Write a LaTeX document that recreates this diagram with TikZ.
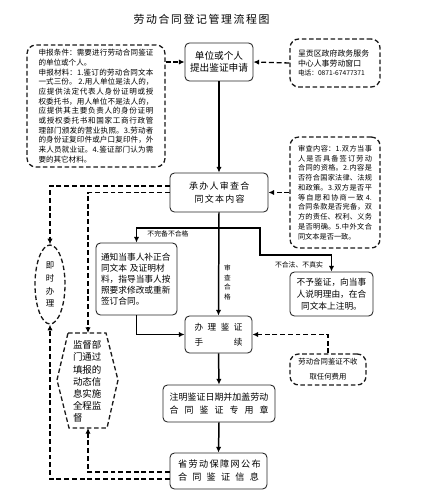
\documentclass[tikz,border=0pt]{standalone}
\usepackage{fontspec}
\newfontfamily\cjk{Noto Sans CJK SC}
\usetikzlibrary{arrows.meta,calc,shapes.geometric}
\XeTeXlinebreaklocale "zh"
\XeTeXlinebreakskip=0pt plus 0.6pt
\newcommand\fs[2]{\fontsize{#1}{#2}\selectfont}
\newcommand\spr[2]{\makebox[#1][s]{#2}}
\begin{document}
\begin{tikzpicture}[x=0.02cm,y=-0.02cm,
  every node/.style={font=\cjk},
  box/.style={draw=black!85, rounded corners=2.5pt, line width=0.5pt, inner sep=0pt, align=center},
  dbox/.style={draw=black!90, dash pattern=on 2.6pt off 1.5pt, rounded corners=5pt, line width=0.75pt, inner sep=0pt},
  arr/.style={line width=0.85pt, -{Latex[length=3.2pt,width=3pt]}},
  darr/.style={line width=0.75pt, dash pattern=on 2.8pt off 1.6pt, -{Latex[length=3.2pt,width=3pt]}},
  lab/.style={inner sep=0pt, font=\cjk\fs{3.9}{5}},
]
\useasboundingbox (0,0) rectangle (433,500);

% title
\node[inner sep=0pt, font=\cjk\fs{6.2}{7}] (title) at (197,19) {\spr{2.54cm}{劳 动 合 同 登 记 管 理 流 程 图}};

% left requirements box
\node[dbox, minimum width=2.76cm, minimum height=2.44cm, align=justify, text width=2.3cm,
      font=\cjk\fs{4.3}{5.5}] (shenbao) at (96,106)
  {申报条件：需要进行劳动合同鉴证\linebreak 的单位或个人。\par
   申报材料：1.鉴订的劳动合同文本\linebreak 一式三份。 2.用人单位是法人的，\linebreak
   应提供法定代表人身份证明或授\linebreak 权委托书，用人单位不是法人的，\linebreak
   应提供其主要负责人的身份证明\linebreak 或授权委托书和国家工商行政管\linebreak
   理部门颁发的营业执照。3.劳动者\linebreak 的身份证复印件或户口复印件，外\linebreak
   来人员就业证。4.鉴证部门认为需\linebreak 要的其它材料。};

% apply box
\node[box, minimum width=1.36cm, minimum height=0.76cm, font=\cjk\fs{5.5}{6.8}] (danwei) at (219,62)
  {单位或个人\\提出鉴证申请};

% telephone box
\node[dbox, minimum width=1.8cm, minimum height=0.96cm, align=left, text width=1.48cm,
      font=\cjk\fs{4.5}{5.4}] (tel) at (335,63)
  {呈贡区政府政务服务\\中心人事劳动窗口\\{\fs{3.8}{5.4}电话：0871-67477371}};

% review box
\node[box, minimum width=1.96cm, minimum height=0.78cm, font=\cjk\fs{5.1}{7.2}] (chengban) at (219,192.5)
  {\spr{1.2cm}{承 办 人 审 查 合}\\\spr{0.98cm}{同 文 本 内 容}};

% review content box
\node[dbox, minimum width=1.8cm, minimum height=2.22cm, align=justify, text width=1.48cm,
      font=\cjk\fs{4.1}{5.55}] (shencha) at (335,192.5)
  {审查内容：1.双方当事\linebreak 人是否具备签订劳动\linebreak 合同的资格。2.内容是\linebreak
   否符合国家法律、法规\linebreak 和政策。3.双方是否平\linebreak 等自愿和协商一致 4.\linebreak
   合同条款是否完备，双\linebreak 方的责任、权利、义务\linebreak 是否明确。5.中外文合\linebreak
   同文本是否一致。};

% notify box
\node[box, minimum width=1.62cm, minimum height=1.44cm, align=left, text width=1.42cm,
      font=\cjk\fs{4.95}{6.2}] (tongzhi) at (136.5,279)
  {通知当事人补正合\\同文本 及证明材\\料，指导当事人按\\照要求修改或重新\\签订合同。};

% refuse box
\node[box, minimum width=1.66cm, minimum height=0.88cm, font=\cjk\fs{4.95}{6.8}] (buyu) at (331.5,294)
  {不予鉴证，向当事\\人说明理由，在合\\同文本上注明。};

% handle box
\node[box, minimum width=1.34cm, minimum height=0.74cm, font=\cjk\fs{4.9}{8.5}] (banli) at (218.5,334.5)
  {\spr{0.96cm}{办 理 鉴 证}\\\spr{0.96cm}{手\hfill 续}};

% fee box
\node[dbox, minimum width=1.52cm, minimum height=0.62cm, align=center, font=\cjk\fs{4.2}{8.5}] (feiyong) at (328,369.5)
  {劳动合同鉴证不收\\取任何费用};

% stamp box
\node[box, minimum width=2.24cm, minimum height=0.74cm, font=\cjk\fs{5.1}{7.4}] (zhuming) at (219,403.5)
  {注明鉴证日期并加盖劳动\\\spr{1.98cm}{合 同 鉴 证 专 用 章}};

% publish box
\node[box, minimum width=1.94cm, minimum height=0.72cm, font=\cjk\fs{5.2}{7.4}] (sheng) at (218.5,471)
  {\spr{1.62cm}{省 劳 动 保 障 网 公 布}\\\spr{1.62cm}{合 同 鉴 证 信 息}};

% immediate ellipse
\node[ellipse, draw=black!90, dash pattern=on 2.6pt off 1.5pt, line width=0.75pt,
      minimum width=0.6cm, minimum height=1.58cm, inner sep=0pt, align=center,
      font=\cjk\fs{4.8}{7.3}] (jishi) at (50,284.5) {即\\时\\办\\理};

% supervision hexagon
\draw[line width=0.75pt, dash pattern=on 2.6pt off 1.5pt, black!90]
  (68,333) -- (106,333) -- (118,380) -- (107,428) -- (69,428) -- (57,380) -- cycle;
\node[inner sep=0pt, align=left, text width=0.58cm, font=\cjk\fs{5.4}{6.9}] (jiandu) at (87.5,381.5)
  {监督部\\门通过\\填报的\\动态信\\息实施\\全程监\\督};
\coordinate (jdtop) at (88,333);
\coordinate (jdbot) at (88,428);

% connectors
\draw[darr] (shenbao.east |- danwei.west) -- (danwei.west);
\draw[darr] (tel.west) -- (danwei.east);
\draw[arr] (danwei.south) -- (chengban.north);
\draw[darr] (shencha.west) -- (chengban.east);
\draw[darr] ([yshift=0.13cm]chengban.west) -| (jishi.north);
\draw[darr] (chengban.west) -| (jdtop);

\coordinate (br) at (219,228);
\coordinate (k1) at (260,255);
\draw[arr] (chengban.south) -- (banli.north);
\draw[arr] (br) -| (tongzhi.north);
\draw[arr] (br) -| (k1) -| (buyu.north);
\draw[arr] (tongzhi.south) |- (banli.west);
\draw[darr] (feiyong.north) |- (banli.east);
\draw[arr] (banli.south) -- (zhuming.north);
\draw[arr] (zhuming.south) -- (sheng.north);
\draw[darr] ([yshift=-0.02cm]sheng.west) -| (jdbot);
\draw[darr] ([yshift=-0.16cm]sheng.west) -| (jishi.south);

% labels
\node[lab] (l1) at (168,233.5) {不完备不合格};
\node[lab] (l2) at (299,264.5) {不合法、不真实};
\node[lab, align=center, font=\cjk\fs{3.8}{5.5}] (l3) at (227.5,282.5) {审\\查\\合\\格};
\end{tikzpicture}
\end{document}
